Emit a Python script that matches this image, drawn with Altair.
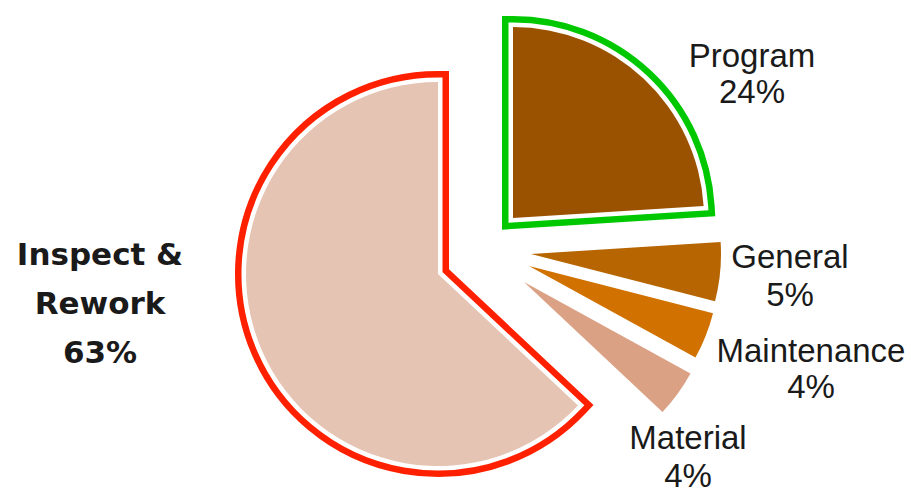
import math
import altair as alt
import pandas as pd

# ---- data ----
categories = ["Program", "General", "Maintenance", "Material", "Inspect & Rework"]
shares = [24, 5, 4, 4, 63]
label_names = ["Program", "General", "Maintenance", "Material", "Inspect &\nRework"]

df = pd.DataFrame({"category": categories, "share": shares})
df["label"] = [f"{n}\n{s}%" for n, s in zip(label_names, shares)]
df["end"] = df["share"].cumsum()
df["start"] = df["end"] - df["share"]

# ---- styling / layout ----
fills = {
    "Program": "#9B5200",
    "General": "#B76500",
    "Maintenance": "#D17200",
    "Material": "#DBA184",
    "Inspect & Rework": "#E6C4B3",
}
outlines = {"Program": "#00C800", "Inspect & Rework": "#FF2000"}
centers = {
    "Program": (513, 218, 191),
    "General": (531, 254, 190),
    "Maintenance": (529, 266, 190),
    "Material": (524, 282, 190),
    "Inspect & Rework": (438, 274, 192),
}
label_pos = {
    "Program": (752, 67, 36),
    "General": (790, 268, 38),
    "Maintenance": (811, 362, 36),
    "Material": (688, 449, 38),
    "Inspect & Rework": (100, 265, 49),
}

theta_scale = alt.Scale(domain=[0, 100], range=[0, 2 * math.pi])
base = alt.Chart(df)


def slice_layer(cat, **mark_kw):
    cx, cy, r = centers[cat]
    return (
        base.transform_filter(alt.datum.category == cat)
        .mark_arc(radius=r, **mark_kw)
        .encode(
            theta=alt.Theta("start:Q", scale=theta_scale),
            theta2="end:Q",
            x=alt.value(cx),
            y=alt.value(cy),
        )
    )


layers = []
for cat in categories:
    if cat in outlines:
        layers.append(slice_layer(cat, fill=outlines[cat], stroke=outlines[cat],
                                  strokeWidth=22, strokeJoin="miter"))
        layers.append(slice_layer(cat, fill="white", stroke="white",
                                  strokeWidth=9, strokeJoin="miter"))
for cat in categories:
    layers.append(slice_layer(cat, fill=fills[cat]))

for cat in categories:
    x, y, lh = label_pos[cat]
    bold = cat == "Inspect & Rework"
    layers.append(
        base.transform_filter(alt.datum.category == cat)
        .mark_text(
            align="center",
            baseline="alphabetic",
            lineBreak="\n",
            lineHeight=lh,
            font="DejaVu Sans" if bold else "Liberation Sans",
            fontSize=31 if bold else 33,
            fontWeight="bold" if bold else "normal",
            color="#1A1A1A",
        )
        .encode(text="label:N", x=alt.value(x), y=alt.value(y))
    )

chart = (
    alt.layer(*layers)
    .properties(width=911, height=490, padding=0, autosize="none")
    .configure_view(stroke=None)
)

chart.save("out.html", embed_options={"renderer": "svg", "actions": False})
